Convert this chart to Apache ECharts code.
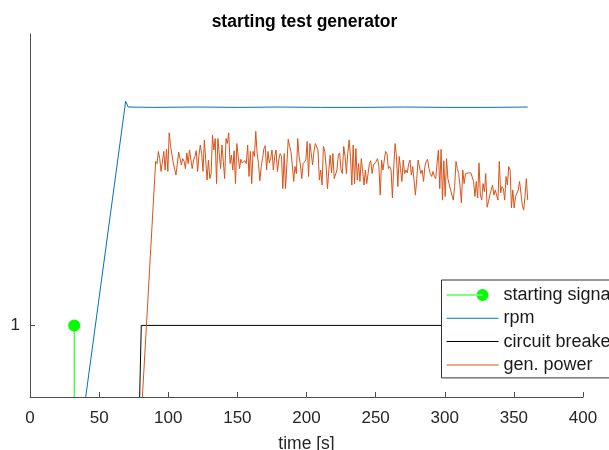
<!DOCTYPE html>
<html>
<head>
<meta charset="utf-8">
<script src="https://cdn.jsdelivr.net/npm/echarts@6/dist/echarts.min.js"></script>
<style>html,body{margin:0;padding:0;background:#fff}#c{width:609px;height:450px}</style>
</head>
<body>
<div id="c"></div>
<script>
// ---- data ----
const xTickInterval = 50;
const yTickValues = [1];
const seriesNames = ['starting signal', 'rpm', 'circuit breaker', 'gen. power'];

const signalT = [32, 32];
const signalV = [0, 1];

const rpmT = [40.3, 69.2, 71, 90, 120, 150, 180, 210, 240, 270, 300, 330, 360];
const rpmV = [0, 4.13, 4.05, 4.045, 4.05, 4.045, 4.05, 4.045, 4.045, 4.05, 4.045, 4.045, 4.05];

const breakerT = [79.3, 80.5, 360];
const breakerV = [0, 1, 1];

const powerRampT = [81.3];
const powerRampV = [0];
const powerStartT = 90.9;
const powerEndT = 360;
const powerV = [
  3.29,3.26,3.43,3.33,3.15,3.13,3.43,3.17,3.46,3.15,
  3.69,3.51,3.51,3.27,3.26,3.10,3.12,3.42,3.41,3.24,
  3.33,3.29,3.19,3.41,3.26,3.45,3.47,3.19,3.31,3.36,
  3.44,3.15,3.38,3.52,3.40,3.15,3.59,3.58,3.03,3.31,
  3.05,3.12,3.66,3.45,3.61,2.98,3.61,3.40,3.19,3.52,
  3.29,3.05,3.61,3.54,3.69,3.26,3.38,3.17,3.44,2.98,
  3.54,
  3.55,3.19,3.32,3.27,3.29,3.30,3.26,3.52,3.08,
  3.43,2.98,3.43,3.36,3.71,3.40,3.26,3.02,3.22,3.33,
  3.47,3.51,3.17,3.43,3.27,3.33,3.45,3.17,3.36,3.45,
  3.15,3.31,3.40,3.36,2.91,3.40,2.91,3.26,3.60,3.50,
  3.43,3.24,3.01,3.22,3.12,3.61,3.36,3.24,3.05,3.26,
  3.27,3.31,3.57,3.08,3.54,3.40,3.24,3.43,3.54,3.53,
  3.45,3.03,3.17,2.96,3.50,3.43,3.22,2.91,3.17,3.38,
  3.13,
  3.40,3.05,3.05,3.17,3.38,3.41,3.17,3.12,3.50,3.36,
  3.12,3.40,3.59,3.36,2.96,3.52,2.98,3.47,3.03,3.26,
  3.01,3.33,3.15,2.96,3.17,2.98,3.12,3.26,3.30,3.12,
  3.24,3.22,3.29,3.33,3.22,2.82,3.31,3.17,3.31,3.43,
  3.40,3.19,3.22,3.17,2.78,3.22,3.54,3.36,2.94,3.36,
  3.19,3.01,3.31,3.12,3.17,3.13,3.26,3.31,3.10,3.22,
  3.24,2.82,3.05,3.31,3.33,3.12,3.17,3.01,3.22,3.29,
  3.32,
  3.19,3.12,3.08,3.15,3.08,3.05,3.26,3.45,2.91,3.46,
  2.75,3.30,2.80,3.33,3.05,3.05,2.89,2.88,2.75,2.94,
  3.29,3.19,3.12,2.94,2.71,3.17,2.98,3.12,3.10,3.13,
  3.12,3.13,3.15,3.01,2.80,3.01,2.78,3.27,2.82,2.75,
  2.98,2.87,3.12,2.65,2.73,2.82,2.80,2.96,2.82,2.89,
  2.87,2.75,3.29,2.85,2.94,2.91,2.75,3.08,2.96,3.22,
  3.17,2.64,2.89,2.64,2.80,2.82,2.89,3.01,3.00,2.68,
  2.61,2.80,3.05,2.75
];

// ---- build ----
const zip = (t, v) => t.map((x, i) => [x, v[i]]);
const powerStep = (powerEndT - powerStartT) / (powerV.length - 1);
const powerData = zip(powerRampT, powerRampV).concat(powerV.map((v, i) => [powerStartT + i * powerStep, v]));

const FONT = 'Liberation Sans, Arial, Helvetica, sans-serif';
const lineIcon = 'path://M0,0M52,14M0,6.5L52,6.5L52,7.5L0,7.5Z';
const stemIcon = 'path://M0,0M52,14M0,6.5L36,6.5L36,7.5L0,7.5Z M30,7A6,6,0,1,0,42,7A6,6,0,1,0,30,7Z';

const colors = ['#00ff00', '#0072bd', '#000000', '#d95319'];

const chart = echarts.init(document.getElementById('c'), null, {renderer: 'canvas'});
chart.setOption({
  animation: false,
  backgroundColor: '#ffffff',
  title: {
    text: 'starting test generator',
    left: 'center',
    top: 8,
    textStyle: {fontFamily: FONT, fontSize: 17.5, fontWeight: 'bold', color: '#000'}
  },
  grid: {left: 30, right: 26, top: 34, bottom: 53, containLabel: false, outerBoundsMode: 'none'},
  xAxis: {
    type: 'value', min: 0, max: 400, interval: xTickInterval,
    name: 'time [s]', nameLocation: 'middle', nameGap: 38,
    nameTextStyle: {fontFamily: FONT, fontSize: 17.5, color: '#262626'},
    axisLine: {show: true, lineStyle: {color: '#4d4d4d', width: 1}},
    axisTick: {show: true, inside: true, length: 5, lineStyle: {color: '#4d4d4d'}},
    axisLabel: {margin: 13, fontFamily: FONT, fontSize: 17, color: '#262626'},
    splitLine: {show: false}
  },
  yAxis: {
    type: 'value', min: 0, max: 5.07,
    axisLine: {show: true, onZero: false, lineStyle: {color: '#4d4d4d', width: 1}},
    axisTick: {show: true, inside: true, length: 5, customValues: yTickValues, lineStyle: {color: '#4d4d4d'}},
    axisLabel: {margin: 10, fontFamily: FONT, fontSize: 17, color: '#262626', customValues: yTickValues},
    splitLine: {show: false}
  },
  legend: {
    orient: 'vertical', left: 441.5, top: 280,
    backgroundColor: '#ffffff', borderColor: '#333333', borderWidth: 1, borderRadius: 0,
    padding: [6, 8, 4, 5],
    itemWidth: 52, itemHeight: 14, itemGap: 5.3,
    itemStyle: {borderWidth: 0},
    textStyle: {fontFamily: FONT, fontSize: 18, lineHeight: 18, color: '#1a1a1a'},
    selectedMode: false,
    data: [
      {name: seriesNames[0], icon: stemIcon},
      {name: seriesNames[1], icon: lineIcon},
      {name: seriesNames[2], icon: lineIcon},
      {name: seriesNames[3], icon: lineIcon}
    ]
  },
  series: [
    {
      name: seriesNames[0], type: 'line', color: colors[0],
      data: zip(signalT, signalV).map((p, i) => i === signalT.length - 1 ? {value: p, symbol: 'circle', symbolSize: 12} : {value: p, symbol: 'none'}),
      showSymbol: true, symbol: 'circle', symbolSize: 12,
      lineStyle: {width: 1, color: colors[0]}, itemStyle: {color: colors[0]}, z: 3
    },
    {
      name: seriesNames[1], type: 'line', color: colors[1], data: zip(rpmT, rpmV),
      symbol: 'none', lineStyle: {width: 1, color: colors[1]}
    },
    {
      name: seriesNames[2], type: 'line', color: colors[2], data: zip(breakerT, breakerV),
      symbol: 'none', lineStyle: {width: 1, color: colors[2]}
    },
    {
      name: seriesNames[3], type: 'line', color: colors[3], data: powerData,
      symbol: 'none', lineStyle: {width: 1, color: colors[3]}
    }
  ]
});
</script>
</body>
</html>
